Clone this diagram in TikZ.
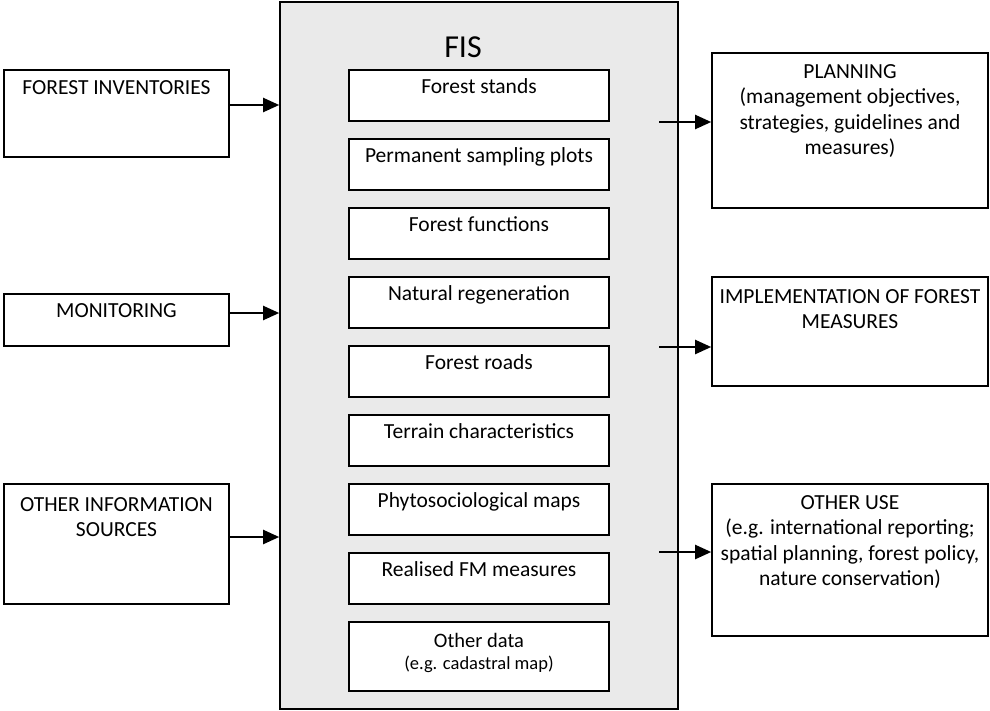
\documentclass[tikz,border=0pt]{standalone}
\usepackage{fontspec}
\setmainfont{Carlito}
\usetikzlibrary{arrows.meta}
\definecolor{fisgray}{RGB}{234,234,234}
\begin{document}
\begin{tikzpicture}[x=1pt,y=-1pt,
  box/.style={draw=black, line width=1.6pt, fill=white, rectangle, inner sep=0pt},
  txt/.style={font=\fontsize{21.5}{25.5}\selectfont, align=center, inner sep=0pt},
  one/.style={txt, text height=0.75em, text depth=0.1em},
  arr/.style={line width=2.1pt, -{Triangle[length=16pt,width=14pt]}}]
\useasboundingbox (0,0) rectangle (990,710);

% FIS container
\node[box, fill=fisgray, minimum width=398, minimum height=707] (fis) at (479,355.5) {};
\node[font=\fontsize{32}{36}\selectfont, inner sep=0pt, text height=0.75em, text depth=0.1em] (fist) at (463,54) {FIS};

% inner boxes
\foreach \t/\nm/\lab in {70/b1/Forest stands, 139/b2/Permanent sampling plots, 208/b3/Forest functions,
  277/b4/Natural regeneration, 346/b5/Forest roads, 415/b6/Terrain characteristics,
  484/b7/Phytosociological maps, 553/b8/Realised FM measures}{
  \node[box, minimum width=260, minimum height=51] (\nm) at (479,\t+25.5) {};
  \node[one] (\nm t) at (479,\t+20.5) {\lab};
}
\node[box, minimum width=260, minimum height=69] (b9) at (479,656.5) {};
\node[txt, font=\fontsize{20.5}{22}\selectfont] (b9t) at (479,653) {Other data\\{\fontsize{18.5}{20}\selectfont (e.g. cadastral map)}};

% left boxes
\node[box, minimum width=225, minimum height=87] (fi) at (116.5,113.5) {};
\node[one] (fit) at (116.5,91) {FOREST INVENTORIES};
\node[box, minimum width=225, minimum height=52] (mon) at (116.5,320) {};
\node[one] (mont) at (116.5,314.5) {MONITORING};
\node[box, minimum width=225, minimum height=120] (ois) at (116.5,544) {};
\node[txt] (oist) at (116.5,517) {OTHER INFORMATION\\SOURCES};

% right boxes
\node[box, minimum width=276, minimum height=155] (plan) at (850,130.5) {};
\node[txt] (plant) at (850,111) {PLANNING\\(management objectives,\\strategies, guidelines and\\measures)};
\node[box, minimum width=276, minimum height=109] (impl) at (850,331.5) {};
\node[txt] (implt) at (850,309) {IMPLEMENTATION OF FOREST\\MEASURES};
\node[box, minimum width=276, minimum height=152] (ouse) at (850,560) {};
\node[txt] (ouset) at (850,542) {OTHER USE\\(e.g. international reporting;\\spatial planning, forest policy,\\nature conservation)};

% connector anchors
\coordinate (y1) at (0,105);
\coordinate (y2) at (0,313);
\coordinate (y3) at (0,537);
\coordinate (s1) at (659,122);
\coordinate (s2) at (659,347);
\coordinate (s3) at (659,552);

\draw[arr] (fi.east |- y1) -- (fis.west |- y1);
\draw[arr] (mon.east |- y2) -- (fis.west |- y2);
\draw[arr] (ois.east |- y3) -- (fis.west |- y3);
\draw[arr] (s1) -- (plan.west |- s1);
\draw[arr] (s2) -- (impl.west |- s2);
\draw[arr] (s3) -- (ouse.west |- s3);
\end{tikzpicture}
\end{document}
